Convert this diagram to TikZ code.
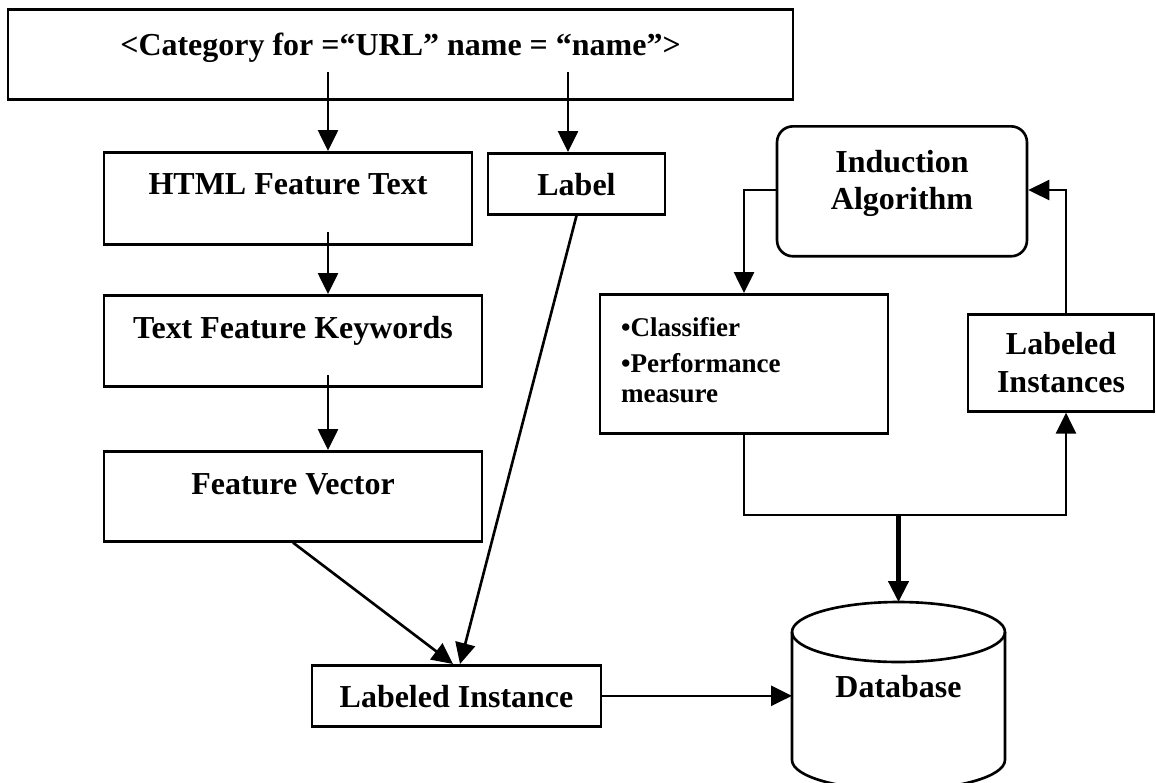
\documentclass[tikz,border=0pt]{standalone}
\usepackage{fontspec}
\setmainfont{Liberation Serif}
\usetikzlibrary{arrows.meta,calc}
\newcommand{\mytwo}[2]{\begin{tabular}[t]{@{}c@{}}#1\\#2\end{tabular}}
\begin{document}
\begin{tikzpicture}[x=0.02cm,y=-0.02cm,
  every node/.style={font=\bfseries\fontsize{18.2}{19}\selectfont},
  box/.style={draw, line width=1.5pt, inner sep=0pt},
  arr/.style={line width=1.5pt, -{Triangle[length=0.42cm,width=0.4cm]}},
  plain/.style={line width=1.5pt}]
\useasboundingbox (0,0) rectangle (1156,782);

% boxes
\node[box, anchor=north, minimum width=15.7cm, text height=0.92cm, text depth=0.88cm] (cat) at (400.5,8) {<Category for =“URL” name = “name”>};
\node[box, anchor=north, minimum width=7.36cm, text height=0.84cm, text depth=1.0cm] (html) at (288,151) {HTML Feature Text};
\node[box, anchor=north, minimum width=3.54cm, text height=0.84cm, text depth=0.38cm] (label) at (576.5,152) {Label};
\node[box, anchor=north, minimum width=7.56cm, text height=0.86cm, text depth=0.96cm] (tfk) at (293,294) {Text Feature Keywords};
\node[box, anchor=north, minimum width=7.56cm, text height=0.86cm, text depth=0.94cm] (fv) at (293,450) {Feature Vector};
\node[box, anchor=north, minimum width=5.78cm, text height=0.84cm, text depth=0.38cm] (li) at (456.5,664) {Labeled Instance};
\node[box, anchor=north, rounded corners=0.32cm, minimum width=5.0cm, text height=0.92cm, text depth=1.68cm,
      font=\bfseries\fontsize{18.2}{21}\selectfont] (ind) at (902,125) {\mytwo{Induction}{Algorithm}};
\node[box, anchor=north, minimum width=5.76cm, inner xsep=0.42cm, text height=0.84cm, text depth=1.94cm,
      font=\bfseries\fontsize{15.4}{17}\selectfont] (cls) at (744,293)
      {\makebox[4.92cm][l]{\begin{tabular}[t]{@{}l@{}}•Classifier\\[0.12cm]•Performance\\measure\end{tabular}}};
\node[box, anchor=north, minimum width=3.72cm, text height=0.8cm, text depth=1.14cm,
      font=\bfseries\fontsize{18.2}{22}\selectfont] (lis) at (1061,313) {\mytwo{Labeled}{Instances}};

% database cylinder
\draw[plain] (898.5,632) ellipse [x radius=2.13cm, y radius=0.6cm];
\draw[plain] (792,632) -- (792,760) arc[start angle=180, end angle=360, x radius=2.13cm, y radius=0.6cm] -- (1005,632);
\node[anchor=base] (db) at (898.5,697) {Database};
\coordinate (dbtop) at (898.5,602);
\coordinate (dbleft) at (792,694.5);

% helper coordinates
\coordinate (c1) at (328,72);
\coordinate (c2) at (568,72);
\coordinate (c3) at (328,232);
\coordinate (c4) at (328,375);
\coordinate (j) at (898.5,515);

% connectors
\draw[arr] (c1) -- (html.north -| c1);
\draw[arr] (c2) -- (label.north -| c2);
\draw[arr] (c3) -- (tfk.north -| c3);
\draw[arr] (c4) -- (fv.north -| c4);
\draw[arr] (fv.south) -- ([xshift=-0.07cm]li.north);
\draw[arr] (label.south) -- ([xshift=0.07cm]li.north);
\draw[arr] (li.east) -- (li.east -| dbleft);
\draw[arr] (ind.west |- 0,190) -| (cls.north);
\draw[arr] ([xshift=0.1cm]lis.north) |- (ind.east |- 0,190);
\draw[arr] (cls.south) |- (j) -| ([xshift=0.1cm]lis.south);
\draw[line width=2.5pt, -{Triangle[length=0.42cm,width=0.4cm]}] (j) -- (dbtop);
\end{tikzpicture}
\end{document}
